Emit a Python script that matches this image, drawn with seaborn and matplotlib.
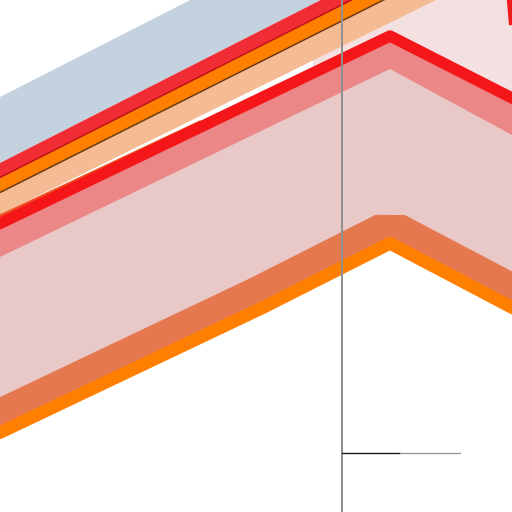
import matplotlib
matplotlib.use("Agg")
import matplotlib.pyplot as plt
import seaborn as sns
import pandas as pd

sns.set_style("white")

# ---- data (x positions and series values) ----
x_main = [-40, 0, 263, 390, 512, 560]
upper_line = [269.3, 288.5, 415.0, 476.0, 414.0, 389.4]      # bright red series
upper_low = [236.0, 255.0, 382.0, 443.0, 377.0, 351.0]       # salmon band lower edge
lower_line = [60.5, 79.5, 204.5, 268.7, 204.5, 179.5]        # orange series

x_band = [-40, 560]
blue_hi = [394.6, 700.6]
blue_lo = [328.7, 633.5]
redband_hi = [328.7, 633.5]
redband_lo = [314.3, 617.3]
orangeband_hi = [314.3, 617.3]
orangeband_lo = [299.4, 600.6]
peach_hi = [299.4, 600.6]
peach_lo = [277.8, 573.0]

x_sliver = [-40, 200]
sliver = [277.2, 390.0]

x_steep = [508.5, 517.0]
steep = [540.0, 440.0]

shade_x = [313, 560]
shade_top = [600, 600]

vline_x = 342
hline_y = 59
hline_x1 = [342, 400]
hline_x2 = [400, 460]

df_main = pd.DataFrame({"x": x_main, "upper": upper_line, "lower": lower_line})

fig = plt.figure(figsize=(5.12, 5.12), dpi=100)
ax = fig.add_axes([0, 0, 1, 1])
ax.set_xlim(0, 512)
ax.set_ylim(0, 512)
ax.axis("off")

# light pink background region on the right
ax.fill_between(shade_x, 0, shade_top, color="#f4e0e0", lw=0, zorder=0)

# pink band between series
ax.fill_between(x_main, lower_line, upper_line, color="#e9c8c8", lw=0, zorder=1)
# salmon band under the red line
ax.fill_between(x_main, upper_low, upper_line, color="#ec8787", lw=0, zorder=2)

# coral wide stroke on the lower series
sns.lineplot(data=df_main, x="x", y="lower", ax=ax, color="#e5784f", linewidth=46,
             sort=False, estimator=None, solid_joinstyle="bevel", zorder=3)
# white below lower series
ax.fill_between(x_main, -100, lower_line, color="white", lw=0, zorder=4)
# orange lower series
sns.lineplot(data=df_main, x="x", y="lower", ax=ax, color="#ff8000", linewidth=9.2,
             sort=False, estimator=None, solid_joinstyle="round", zorder=5)

# upper parallel bands
ax.fill_between(x_band, blue_lo, blue_hi, color="#c4d2df", lw=0, zorder=6)
ax.fill_between(x_band, redband_lo, redband_hi, color="#f02d35", lw=0, zorder=6)
ax.fill_between(x_band, orangeband_lo, orangeband_hi, color="#ff8000", lw=0, zorder=6)
ax.fill_between(x_band, peach_lo, peach_hi, color="#f5bb94", lw=0, zorder=6)
ax.plot(x_band, redband_lo, color="#c0101a", lw=1.1, zorder=7)
ax.plot(x_band, orangeband_lo, color="#6b3a0e", lw=1.1, zorder=7)
ax.plot(x_sliver, sliver, color="#f04e1e", lw=2.2, zorder=7)

# bright red upper series
sns.lineplot(data=df_main, x="x", y="upper", ax=ax, color="#f5161a", linewidth=8.2,
             sort=False, estimator=None, solid_joinstyle="round", zorder=8)
ax.plot(x_steep, steep, color="#f01a1a", lw=5.8, solid_capstyle="butt", zorder=8)

# reference lines
ax.axvline(vline_x, color="#909090", lw=1.44, zorder=10)
ax.plot(hline_x1, [hline_y, hline_y], color="#1a1a1a", lw=1.0, zorder=10)
ax.plot(hline_x2, [hline_y, hline_y], color="#999999", lw=1.0, zorder=10)

if ax.get_legend() is not None:
    ax.get_legend().remove()

fig.savefig("out.png", dpi=100)
